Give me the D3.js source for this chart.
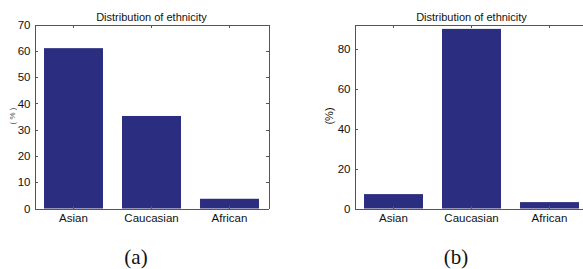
<!DOCTYPE html>
<html>
<head>
<meta charset="utf-8">
<script src="https://cdn.jsdelivr.net/npm/d3@7"></script>
<style>
  body { margin: 0; background: #fff; }
  svg { display: block; }
  .axis path, .axis line { stroke: #555; shape-rendering: crispEdges; }
  .axis text { font-family: 'Liberation Sans', Arial, sans-serif; font-size: 11.5px; fill: #111; }
  .title { font-family: 'Liberation Sans', Arial, sans-serif; font-size: 11px; fill: #111; }
  .caption { font-family: 'Liberation Serif', serif; font-size: 21px; fill: #111; }
</style>
</head>
<body>
<div id="chart"></div>
<script>
// data
const categories = ['Asian', 'Caucasian', 'African'];
const valuesA = [61, 35.2, 3.7];
const valuesB = [7.2, 89.8, 3.2];
const yTicksA = [0, 10, 20, 30, 40, 50, 60, 70];
const yTicksB = [0, 20, 40, 60, 80];
const yMaxA = 70;
const yMaxB = 92;
const captions = ['(a)', '(b)'];

const W = 583, H = 269;

const svg = d3.select('#chart')
  .append('svg')
  .attr('width', W)
  .attr('height', H);

// one matlab-ish bar panel
const panel = (opts) => {
  const { left, values, ticks, yMax, caption, capX, label, labelX, labelSize, labelColor } = opts;
  const top = 24.5, bottom = 208.5, width = 234;

  const x = d3.scaleBand()
    .domain(categories)
    .range([left, left + width])
    .paddingInner(0.244)
    .paddingOuter(0.122);

  const y = d3.scaleLinear().domain([0, yMax]).range([bottom, top]);

  const g = svg.append('g');

  // bars
  g.selectAll('rect')
    .data(values)
    .enter()
    .append('rect')
    .attr('x', (d, i) => x(categories[i]))
    .attr('width', x.bandwidth())
    .attr('y', d => y(d))
    .attr('height', d => y(0) - y(d))
    .attr('fill', '#2b2e80');

  // Y axis (ticks inward)
  g.append('g')
    .attr('class', 'axis')
    .attr('transform', `translate(${left}, 0)`)
    .call(d3.axisLeft(y).tickValues(ticks).tickSizeInner(-3).tickSizeOuter(0).tickPadding(4));

  // right border
  g.append('g')
    .attr('class', 'axis')
    .attr('transform', `translate(${left + width}, 0)`)
    .call(d3.axisRight(y).tickValues(ticks).tickSizeInner(-3).tickSizeOuter(0).tickFormat(''));

  // X axis
  g.append('g')
    .attr('class', 'axis')
    .attr('transform', `translate(0, ${bottom})`)
    .call(d3.axisBottom(x).tickSizeInner(-3).tickSizeOuter(0).tickPadding(5));

  // top border
  g.append('g')
    .attr('class', 'axis')
    .attr('transform', `translate(0, ${top})`)
    .call(d3.axisTop(x).tickSizeInner(-3).tickSizeOuter(0).tickFormat(''));

  g.selectAll('.axis .domain').attr('stroke', '#444');

  // title
  g.append('text')
    .attr('class', 'title')
    .attr('x', left + width / 2)
    .attr('y', 20.5)
    .attr('text-anchor', 'middle')
    .text('Distribution of ethnicity');

  // y label
  g.append('text')
    .attr('transform', `translate(${labelX}, 116) rotate(-90)`)
    .attr('text-anchor', 'middle')
    .attr('dy', '0.35em')
    .style('font-family', "'Liberation Sans', Arial, sans-serif")
    .style('font-size', labelSize)
    .attr('fill', labelColor)
    .text(label);

  // caption
  svg.append('text')
    .attr('class', 'caption')
    .attr('x', capX)
    .attr('y', 263.5)
    .attr('text-anchor', 'middle')
    .text(caption);
};

panel({
  left: 34.5, values: valuesA, ticks: yTicksA, yMax: yMaxA,
  caption: captions[0], capX: 136,
  label: '( % )', labelX: 12, labelSize: '8px', labelColor: '#555',
});

panel({
  left: 354.5, values: valuesB, ticks: yTicksB, yMax: yMaxB,
  caption: captions[1], capX: 456,
  label: '(%)', labelX: 329, labelSize: '11px', labelColor: '#111',
});
</script>
</body>
</html>
